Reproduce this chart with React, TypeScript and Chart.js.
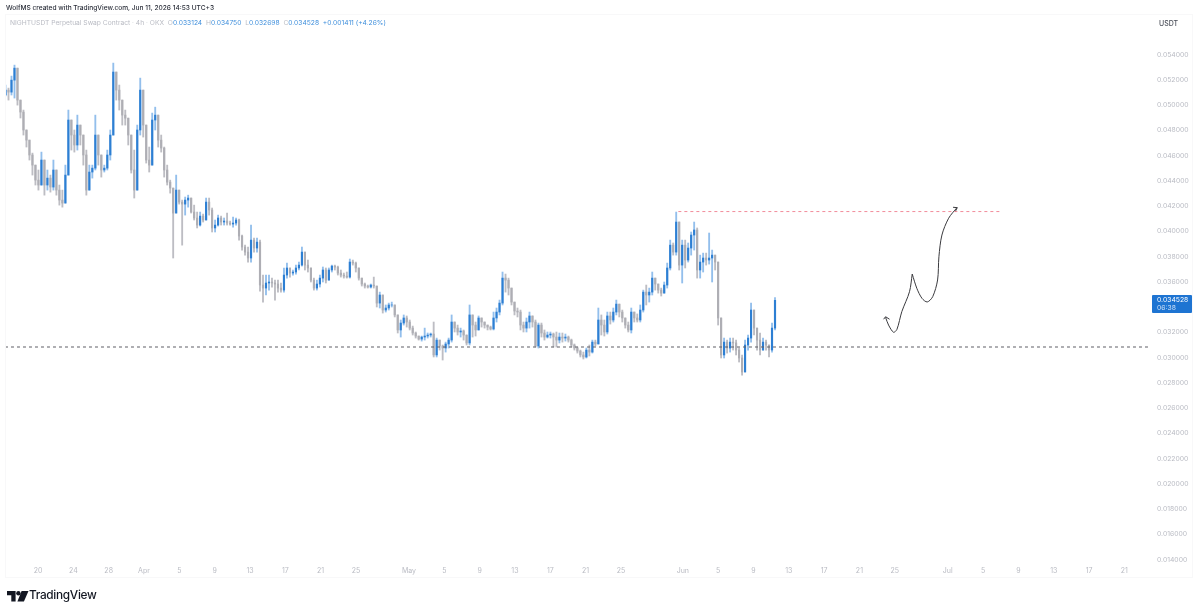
import React, { useEffect, useRef } from "react";
import { Chart, registerables } from "chart.js";

Chart.register(...registerables);

// Candle highs / lows / closes (USDT), one candle per ~8h
const highs = [
  0.05158,0.05134,0.05229,0.05316,0.05158,0.05039,0.0496,0.04802,0.04722,0.04619,
  0.04524,0.04485,0.04627,0.04564,0.04485,0.04445,0.04564,0.04405,0.04366,0.04326,
  0.04524,0.0496,0.04841,0.04802,0.0492,0.04841,0.04762,0.04643,0.04524,0.04524,
  0.0492,0.04683,0.04604,0.04524,0.04643,0.04802,0.05332,0.05237,0.05158,0.05039,
  0.0496,0.04896,0.04762,0.04643,0.04841,0.05213,0.05055,0.04802,0.04667,0.04936,
  0.04983,0.04841,0.04762,0.04667,0.04524,0.04405,0.04342,0.04445,0.04326,0.04247,
  0.04271,0.04286,0.04263,0.04207,0.04152,0.04152,0.04136,0.04263,0.04263,0.04184,
  0.04089,0.04128,0.0412,0.04105,0.04144,0.04081,0.04112,0.04105,0.04097,0.0397,
  0.0389,0.03875,0.04049,0.03946,0.03946,0.0393,0.03653,0.03653,0.03653,0.03629,
  0.03613,0.03613,0.0359,0.03709,0.03748,0.03709,0.03693,0.03732,0.03756,0.03875,
  0.03811,0.03772,0.03709,0.03629,0.03613,0.03653,0.03717,0.03709,0.03709,0.03732,
  0.03732,0.03724,0.03693,0.03669,0.03677,0.0378,0.03772,0.03756,0.03709,0.03613,
  0.0359,0.03574,0.03582,0.03637,0.03566,0.03518,0.03495,0.03416,0.03431,0.03439,
  0.03416,0.03337,0.03297,0.03337,0.03329,0.03297,0.03249,0.03202,0.0317,0.0317,
  0.03233,0.03194,0.03194,0.03281,0.03154,0.03138,0.03099,0.03122,0.03154,0.03337,
  0.03281,0.03257,0.03233,0.03218,0.03178,0.03416,0.03337,0.03281,0.03329,0.03313,
  0.03281,0.03257,0.03249,0.0336,0.03392,0.03455,0.03677,0.03661,0.03629,0.0355,
  0.03431,0.03392,0.03376,0.03281,0.03313,0.0336,0.03329,0.03297,0.03273,0.03273,
  0.03218,0.03202,0.03202,0.03194,0.03202,0.03194,0.03194,0.03186,0.0317,0.03146,
  0.03107,0.03083,0.03059,0.03043,0.03075,0.03099,0.03138,0.03138,0.03392,0.03337,
  0.03297,0.0336,0.0336,0.03392,0.03455,0.03416,0.03376,0.03313,0.03281,0.03392,
  0.0336,0.03345,0.03416,0.03534,0.03574,0.0355,0.03677,0.03629,0.03582,0.0355,
  0.03598,0.03748,0.0393,0.03907,0.04152,0.04073,0.0393,0.0393,0.03907,0.03994,
  0.04073,0.04026,0.03811,0.03827,0.03827,0.03986,0.03851,0.03811,0.03756,0.03313,
  0.03154,0.03138,0.03154,0.03154,0.03138,0.03075,0.0302,0.03138,0.03178,0.03431,
  0.03376,0.03233,0.03194,0.03154,0.03138,0.03099,0.03273,0.03475,
];
const lows = [
  0.05071,0.05039,0.05079,0.05055,0.04999,0.04897,0.04762,0.04667,0.04564,0.04445,
  0.04366,0.04326,0.04405,0.04286,0.04326,0.0431,0.04326,0.04286,0.04207,0.04191,
  0.04286,0.04445,0.04643,0.04627,0.04643,0.04683,0.04524,0.04286,0.04366,0.04421,
  0.04485,0.04524,0.04429,0.04469,0.04485,0.04564,0.04762,0.05039,0.0496,0.04841,
  0.04841,0.04683,0.04461,0.04263,0.04326,0.04762,0.04746,0.0454,0.04469,0.04524,
  0.04802,0.04667,0.04627,0.04429,0.04366,0.04302,0.03788,0.04144,0.04215,0.0389,
  0.04128,0.04191,0.04144,0.04089,0.04026,0.04041,0.04073,0.04089,0.04128,0.03994,
  0.03994,0.04041,0.04049,0.04049,0.04049,0.04049,0.04033,0.04049,0.0393,0.03851,
  0.03811,0.03756,0.03756,0.03835,0.03835,0.03526,0.03439,0.03495,0.03534,0.03558,
  0.03455,0.03518,0.03518,0.03518,0.03629,0.03637,0.03653,0.03661,0.03693,0.03724,
  0.03693,0.03677,0.03598,0.03534,0.03534,0.03558,0.03598,0.0359,0.03613,0.03677,
  0.03693,0.03653,0.03637,0.03629,0.03629,0.03629,0.03732,0.03677,0.03613,0.03566,
  0.0355,0.0355,0.0355,0.0355,0.034,0.03392,0.03352,0.0336,0.03376,0.034,
  0.03321,0.03194,0.03162,0.03257,0.03241,0.03218,0.03178,0.03154,0.03138,0.0313,
  0.03138,0.03154,0.03162,0.03004,0.03004,0.03059,0.0298,0.03043,0.03075,0.03122,
  0.03202,0.03178,0.03162,0.03138,0.03099,0.03099,0.03162,0.0317,0.03218,0.03241,
  0.03233,0.03218,0.03218,0.03218,0.03281,0.03337,0.03416,0.03518,0.03495,0.03416,
  0.03337,0.03321,0.03218,0.03202,0.03202,0.03233,0.03241,0.03083,0.03075,0.03162,
  0.03138,0.03154,0.03154,0.03083,0.03083,0.03115,0.03122,0.0313,0.03122,0.03083,
  0.03059,0.03035,0.03004,0.02988,0.02996,0.03012,0.03035,0.03091,0.03107,0.03178,
  0.0317,0.03186,0.03265,0.03281,0.03337,0.03321,0.03281,0.03233,0.03202,0.03194,
  0.03281,0.03281,0.03281,0.0336,0.03416,0.03439,0.03495,0.03534,0.0351,0.03487,
  0.0351,0.0355,0.03693,0.03811,0.03811,0.03693,0.0359,0.03709,0.03756,0.03811,
  0.03851,0.03629,0.03629,0.03677,0.03732,0.0374,0.03598,0.03693,0.03257,0.02996,
  0.02996,0.03035,0.03043,0.03059,0.0302,0.02964,0.02861,0.02901,0.03059,0.03122,
  0.03178,0.03059,0.0302,0.03075,0.03059,0.03004,0.03043,0.03218,
];
const closes = [
  0.05118,0.05102,0.05197,0.05292,0.05039,0.04944,0.04802,0.04722,0.04604,0.04524,
  0.04405,0.04366,0.04564,0.04366,0.04421,0.0435,0.04485,0.04326,0.04247,0.04223,
  0.04445,0.04881,0.04762,0.04683,0.04841,0.04762,0.04604,0.04326,0.04469,0.045,
  0.04762,0.04604,0.04485,0.045,0.04604,0.04762,0.05261,0.05118,0.05039,0.0492,
  0.04896,0.04762,0.04485,0.04326,0.04802,0.05118,0.04841,0.04564,0.04524,0.04881,
  0.0492,0.04722,0.04659,0.04485,0.04389,0.04342,0.04144,0.04326,0.04231,0.04215,
  0.04247,0.04263,0.04152,0.04105,0.04049,0.0412,0.04089,0.04231,0.04168,0.04026,
  0.04049,0.04105,0.04073,0.04081,0.04065,0.04057,0.04065,0.04089,0.03962,0.03875,
  0.03835,0.03788,0.0393,0.03867,0.03914,0.03574,0.0355,0.0359,0.03598,0.0359,
  0.03582,0.0355,0.03534,0.03653,0.03709,0.03669,0.03677,0.03709,0.03732,0.03835,
  0.03732,0.03709,0.03613,0.0355,0.03582,0.03629,0.03693,0.03613,0.03693,0.03724,
  0.03716,0.03669,0.03653,0.03645,0.03637,0.03756,0.03748,0.03709,0.03629,0.03582,
  0.03566,0.03558,0.03574,0.03566,0.03431,0.03495,0.03376,0.03392,0.03416,0.03416,
  0.03337,0.03218,0.03273,0.03313,0.03281,0.03233,0.03194,0.0317,0.03146,0.03162,
  0.0317,0.03178,0.03186,0.0302,0.03138,0.03091,0.03075,0.03107,0.03138,0.03281,
  0.03233,0.03202,0.0321,0.03178,0.03115,0.03337,0.03257,0.03218,0.03313,0.03281,
  0.03257,0.03241,0.03226,0.03313,0.0336,0.03431,0.03629,0.03613,0.0355,0.03439,
  0.03368,0.0336,0.03257,0.03233,0.03281,0.03329,0.03281,0.03091,0.03257,0.03194,
  0.03162,0.03178,0.03186,0.03162,0.03138,0.03162,0.03154,0.03162,0.03138,0.03099,
  0.03075,0.03051,0.0302,0.03004,0.03059,0.03043,0.03122,0.03107,0.03297,0.03257,
  0.03202,0.03329,0.03297,0.0336,0.03423,0.0336,0.03313,0.03257,0.03218,0.0336,
  0.03313,0.03297,0.03376,0.03518,0.03495,0.03518,0.03629,0.03582,0.03534,0.0351,
  0.03574,0.03709,0.0389,0.03835,0.04073,0.03732,0.0389,0.03772,0.03867,0.0397,
  0.0401,0.03693,0.03756,0.03788,0.03772,0.03788,0.03811,0.03756,0.03313,0.0302,
  0.03122,0.03075,0.03122,0.03115,0.03059,0.02996,0.02885,0.03099,0.03154,0.03376,
  0.03233,0.03138,0.03059,0.03122,0.03099,0.03059,0.03233,0.034528,
];
const firstOpen = 0.0508;

// X axis is in days counted from Mar 20
const tickDays = [0,4,8,12,16,20,24,28,32,36,42,46,50,54,58,62,66,73,77,81,85,89,93,97,103,107,111,115,119,123];
const tickLabels = ["20","24","28","Apr","5","9","13","17","21","25","May","5","9","13","17","21","25","Jun","5","9","13","17","21","25","Jul","5","9","13","17","21"];
const firstCandleDay = -3.68;
const candleDays = 0.339;

const priceTicks = [0.014,0.016,0.018,0.02,0.022,0.024,0.026,0.028,0.03,0.032,0.034,0.036,0.038,0.04,0.042,0.044,0.046,0.048,0.05,0.052,0.054];

// Drawings on the chart
const supportLevel = 0.03083;
const supportDays = [-3.74, 126.2];
const targetLevel = 0.04156;
const targetDays = [72.5, 108.9];
const riseDays = [95.96,96.3,96.86,97.25,97.8,98.67,98.98];
const risePrices = [0.03318,0.03257,0.032,0.03223,0.03363,0.03521,0.03661];
const finalDays = [98.98,99.5,100.08,100.68,101.3,101.85,102.0,102.34,103.1,104.04];
const finalPrices = [0.03661,0.03548,0.03469,0.0344,0.03482,0.03614,0.03798,0.0397,0.04103,0.04187];
const arrowStartDays = [95.74,95.96,96.41];
const arrowStartPrices = [0.03303,0.03323,0.03303];
const arrowEndDays = [103.6,104.08,103.85];
const arrowEndPrices = [0.0419,0.04187,0.04155];

const BLUE = "#2d7fd3";
const BLUE_WICK = "#93bfec";
const GRAY = "#aeaeb4";
const GRAY_WICK = "#bdbdc3";
const INK = "#3a3a3e";

const txt: React.CSSProperties = { position: "absolute", whiteSpace: "pre", fontFamily: "Inter, sans-serif", lineHeight: 1 };

export default function App() {
  const ref = useRef<HTMLCanvasElement | null>(null);

  useEffect(() => {
    document.body.style.margin = "0";
    document.body.style.background = "#fff";
    const opens = closes.map((_, i) => (i === 0 ? firstOpen : closes[i - 1]));
    const up = closes.map((c, i) => c >= opens[i]);
    const xs = closes.map((_, i) => firstCandleDay + i * candleDays);
    const wicks = closes.map((c, i) => ({
      x: xs[i],
      y: [Math.min(lows[i], c, opens[i]), Math.max(highs[i], c, opens[i])],
    }));
    const bodies = closes.map((c, i) => ({ x: xs[i], y: [opens[i], c] }));
    const line = (days: number[], prices: number[]) => days.map((d, i) => ({ x: d, y: prices[i] }));
    const ink = { borderColor: INK, borderWidth: 1, pointRadius: 0, order: 1 };

    const chart = new Chart(ref.current!, {
      type: "bar",
      data: {
        datasets: [
          {
            type: "line",
            data: line(supportDays, [supportLevel, supportLevel]),
            borderColor: "#5f5f66",
            borderWidth: 1.2,
            borderDash: [3, 3],
            pointRadius: 0,
            order: 1,
          },
          {
            type: "line",
            data: line(targetDays, [targetLevel, targetLevel]),
            borderColor: "#f0808f",
            borderWidth: 0.9,
            borderDash: [3, 3],
            pointRadius: 0,
            order: 1,
          },
          { type: "line", data: line(riseDays, risePrices), tension: 0.3, ...ink },
          { type: "line", data: line(finalDays, finalPrices), tension: 0.3, ...ink },
          { type: "line", data: line(arrowStartDays, arrowStartPrices), ...ink },
          { type: "line", data: line(arrowEndDays, arrowEndPrices), ...ink },
          {
            data: bodies,
            backgroundColor: up.map((u) => (u ? BLUE : GRAY)),
            barThickness: 1.5,
            grouped: false,
            order: 2,
          },
          {
            data: wicks,
            backgroundColor: up.map((u) => (u ? BLUE_WICK : GRAY_WICK)),
            barThickness: 1.2,
            grouped: false,
            order: 3,
          },
        ] as any,
      },
      options: {
        responsive: false,
        animation: false,
        events: [],
        layout: { padding: { left: 5, top: 14, right: 0, bottom: 0 } },
        plugins: { legend: { display: false }, tooltip: { enabled: false }, title: { display: false } },
        scales: {
          x: {
            type: "linear",
            offset: false,
            min: -3.737,
            max: 125.9,
            grid: { display: false, drawTicks: false },
            border: { display: false },
            afterBuildTicks: (s: any) => {
              s.ticks = tickDays.map((value) => ({ value }));
            },
            afterFit: (s: any) => {
              s.height = 49;
            },
            ticks: {
              autoSkip: false,
              maxRotation: 0,
              minRotation: 0,
              padding: 3,
              color: "#b9bbc3",
              font: { family: "Inter", size: 7 },
              callback: (_v: any, i: number) => tickLabels[i],
            },
          },
          y: {
            type: "linear",
            position: "right",
            min: 0.013644,
            max: 0.057208,
            grid: { display: false, drawTicks: false },
            border: { display: false },
            afterBuildTicks: (s: any) => {
              s.ticks = priceTicks.map((value) => ({ value }));
            },
            afterFit: (s: any) => {
              s.width = 50;
            },
            ticks: {
              autoSkip: false,
              padding: 7,
              color: "#b9bbc3",
              font: { family: "Inter", size: 6.8 },
              callback: (v: any) => Number(v).toFixed(6),
            },
          },
        },
      } as any,
    });
    return () => chart.destroy();
  }, []);

  return (
    <div style={{ position: "relative", width: 1200, height: 613, overflow: "hidden", background: "#fff", filter: "blur(0.35px)" }}>
      <canvas ref={ref} width={1200} height={613} style={{ position: "absolute", left: 0, top: 0, width: 1200, height: 613 }} />
      <div style={{ position: "absolute", left: 5, top: 14, width: 1188, height: 564, border: "1px solid #f8f8f9", boxSizing: "border-box", pointerEvents: "none" }} />
      <div style={{ ...txt, left: 6, top: 5, fontSize: 6.6, fontWeight: 500, color: "#2a2e39" }}>WolfMS created with TradingView.com, Jun 11, 2026 14:53 UTC+3</div>
      <div style={{ ...txt, left: 10, top: 20, fontSize: 6.7, color: "#b9bbc3" }}>
        NIGHTUSDT Perpetual Swap Contract · 4h · OKX
        <span style={{ color: "#b9bbc3" }}>{"  O"}</span><span style={{ color: "#3f8fdc" }}>0.033124</span>
        <span style={{ color: "#b9bbc3" }}>{"  H"}</span><span style={{ color: "#3f8fdc" }}>0.034750</span>
        <span style={{ color: "#b9bbc3" }}>{"  L"}</span><span style={{ color: "#3f8fdc" }}>0.032698</span>
        <span style={{ color: "#b9bbc3" }}>{"  C"}</span><span style={{ color: "#3f8fdc" }}>0.034528</span>
        <span style={{ color: "#3f8fdc" }}>{"  +0.001411 (+4.26%)"}</span>
      </div>
      <div style={{ ...txt, left: 1159, top: 20, fontSize: 7, fontWeight: 500, color: "#4a4e58" }}>USDT</div>
      <div style={{ position: "absolute", left: 1152, top: 295, width: 40, height: 18, background: "#1e74d2", borderRadius: 1 }} />
      <div style={{ ...txt, left: 1157, top: 297, fontSize: 6.8, color: "#fff" }}>0.034528</div>
      <div style={{ ...txt, left: 1157, top: 305, fontSize: 6.8, color: "#cfe2f7" }}>06:38</div>
      <svg style={{ position: "absolute", left: 7, top: 591 }} width="22" height="11" viewBox="0 0 22 11">
        <path d="M0 0H8.6V10.6H4.3V4.3H0Z" fill="#131722" />
        <circle cx="11.4" cy="2.2" r="2.2" fill="#131722" />
        <path d="M14.6 0H21.5L16.9 10.6H10.4Z" fill="#131722" />
      </svg>
      <div style={{ ...txt, left: 29, top: 590, fontSize: 11.8, fontWeight: 500, color: "#131722", letterSpacing: -0.3 }}>TradingView</div>
    </div>
  );
}
